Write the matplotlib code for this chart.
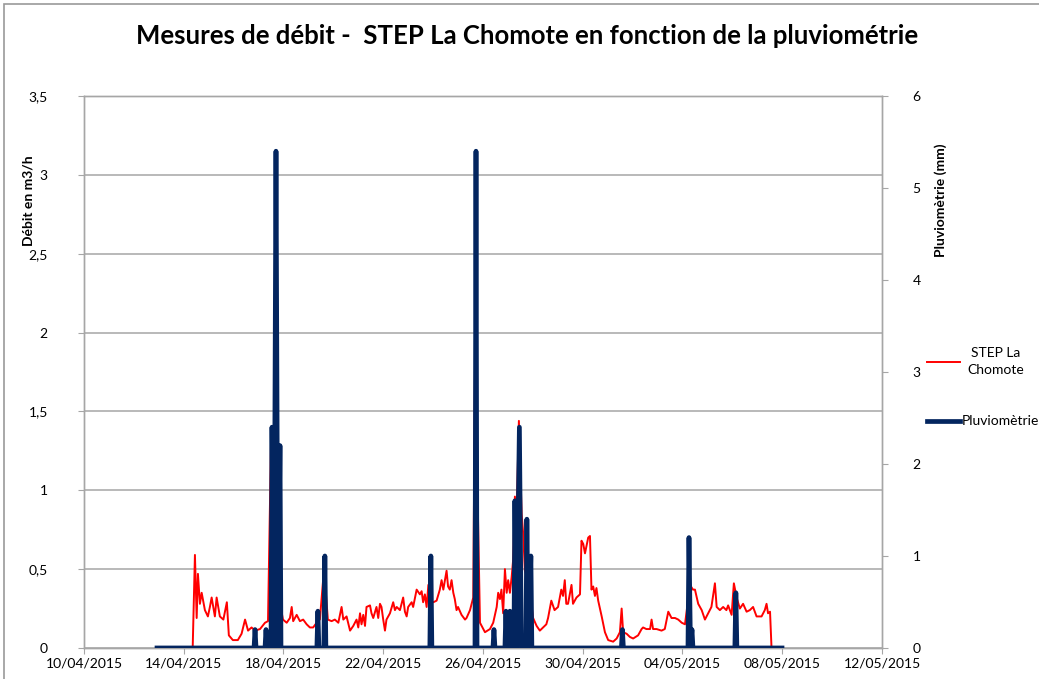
import numpy as np
import pandas as pd
import matplotlib
matplotlib.use('Agg')
import matplotlib.pyplot as plt
from matplotlib.lines import Line2D
from matplotlib.patches import Rectangle

plt.rcParams['font.family'] = ['Lato', 'DejaVu Sans']

# débit STEP (m3/h), temps en jours depuis le 10/04/2015
flow_day = [4.36, 4.45, 4.52, 4.57, 4.65, 4.72, 4.78, 4.85, 4.97, 5.05, 5.12, 5.25, 5.32, 5.45,
            5.59, 5.73, 5.81, 5.97, 6.17, 6.32, 6.46, 6.58, 6.72, 6.86, 7.06, 7.26, 7.38, 7.50,
            7.62, 7.74, 7.80, 7.90, 7.98, 8.13, 8.26, 8.33, 8.39, 8.53, 8.66, 8.79, 8.93, 9.06,
            9.19, 9.33, 9.39, 9.46, 9.60, 9.70, 9.78, 9.93, 10.06, 10.20, 10.33, 10.40, 10.53,
            10.67, 10.80, 10.93, 11.00, 11.07, 11.13, 11.20, 11.27, 11.33, 11.47, 11.53, 11.60,
            11.73, 11.80, 11.87, 11.93, 12.00, 12.07, 12.13, 12.27, 12.40, 12.47, 12.54, 12.67,
            12.80, 12.87, 12.94, 13.00, 13.14, 13.20, 13.34, 13.47, 13.54, 13.60, 13.67, 13.74,
            13.81, 13.87, 14.01, 14.14, 14.27, 14.34, 14.41, 14.54, 14.60, 14.67, 14.74, 14.81,
            14.87, 14.94, 15.00, 15.14, 15.28, 15.34, 15.48, 15.61, 15.70, 15.78, 15.88, 16.08,
            16.28, 16.41, 16.55, 16.61, 16.68, 16.74, 16.81, 16.88, 16.95, 17.01, 17.08, 17.15,
            17.21, 17.28, 17.35, 17.44, 17.55, 17.61, 17.68, 17.75, 17.88, 18.01, 18.15, 18.28,
            18.41, 18.54, 18.61, 18.74, 18.87, 19.01, 19.14, 19.21, 19.28, 19.34, 19.41, 19.55,
            19.61, 19.75, 19.89, 19.95, 20.02, 20.09, 20.22, 20.29, 20.35, 20.42, 20.49, 20.55,
            20.62, 20.76, 20.89, 21.02, 21.22, 21.36, 21.49, 21.56, 21.62, 21.76, 21.89, 22.02,
            22.22, 22.36, 22.42, 22.55, 22.70, 22.76, 22.82, 22.96, 23.16, 23.29, 23.43, 23.56,
            23.70, 23.83, 23.97, 24.10, 24.22, 24.30, 24.42, 24.50, 24.63, 24.77, 24.90, 25.03,
            25.16, 25.30, 25.37, 25.50, 25.63, 25.76, 25.83, 25.97, 26.06, 26.17, 26.30, 26.43,
            26.57, 26.70, 26.83, 26.97, 27.17, 27.30, 27.37, 27.43, 27.51, 27.57]
flow_val = [0.0, 0.59, 0.19, 0.47, 0.28, 0.35, 0.30, 0.24, 0.20, 0.26, 0.32, 0.20, 0.32, 0.20,
            0.18, 0.29, 0.08, 0.05, 0.05, 0.09, 0.18, 0.11, 0.13, 0.11, 0.12, 0.16, 0.17, 1.30,
            0.90, 1.20, 0.58, 0.25, 0.18, 0.16, 0.19, 0.26, 0.17, 0.21, 0.17, 0.18, 0.15, 0.13,
            0.13, 0.16, 0.24, 0.18, 0.45, 0.35, 0.18, 0.17, 0.18, 0.16, 0.26, 0.18, 0.20,
            0.11, 0.14, 0.18, 0.13, 0.22, 0.15, 0.21, 0.14, 0.26, 0.27, 0.22, 0.19,
            0.26, 0.19, 0.28, 0.26, 0.18, 0.11, 0.18, 0.22, 0.29, 0.24, 0.26, 0.24,
            0.32, 0.23, 0.20, 0.26, 0.29, 0.26, 0.37, 0.34, 0.36, 0.29, 0.34, 0.26,
            0.40, 0.30, 0.29, 0.30, 0.37, 0.43, 0.37, 0.49, 0.39, 0.37, 0.43, 0.35,
            0.31, 0.24, 0.26, 0.21, 0.18, 0.19, 0.24, 0.32, 2.20, 1.00, 0.16, 0.10,
            0.12, 0.16, 0.26, 0.35, 0.31, 0.37, 0.22, 0.50, 0.35, 0.43, 0.35, 0.45,
            0.56, 0.96, 0.85, 1.44, 0.85, 0.73, 0.49, 0.45, 0.35, 0.19, 0.14, 0.11,
            0.13, 0.15, 0.19, 0.30, 0.24, 0.26, 0.37, 0.33, 0.43, 0.28, 0.28, 0.40,
            0.28, 0.32, 0.34, 0.68, 0.66, 0.60, 0.70, 0.71, 0.37, 0.39, 0.33, 0.38,
            0.30, 0.20, 0.10, 0.05, 0.04, 0.06, 0.10, 0.25, 0.10, 0.09, 0.07, 0.06,
            0.08, 0.12, 0.13, 0.12, 0.12, 0.18, 0.12, 0.12, 0.11, 0.12, 0.23, 0.19,
            0.19, 0.18, 0.16, 0.15, 0.30, 0.40, 0.37, 0.37, 0.28, 0.24, 0.18, 0.22,
            0.26, 0.41, 0.26, 0.24, 0.26, 0.24, 0.27, 0.21, 0.41, 0.32, 0.25, 0.28,
            0.23, 0.24, 0.26, 0.20, 0.20, 0.24, 0.28, 0.22, 0.23, 0.0]

# pluviométrie (mm), temps en jours depuis le 10/04/2015
rain_day = [2.93,
            6.82, 6.86, 6.90, 7.26, 7.30, 7.34, 7.50, 7.54, 7.62, 7.70, 7.78, 7.86, 7.90,
            9.34, 9.38, 9.42, 9.62, 9.66, 9.70, 13.87, 13.91, 13.95, 15.68, 15.72, 15.76,
            16.40, 16.44, 16.48, 16.88, 16.92, 16.96, 17.04, 17.08, 17.12, 17.24, 17.28, 17.34,
            17.46, 17.54, 17.72, 17.76, 17.82, 17.92, 17.96,
            21.55, 21.59, 21.63, 24.22, 24.26, 24.32, 24.38, 24.42, 26.10, 26.14, 26.18,
            27.99]
rain_mm = [0.0,
           0.0, 0.2, 0.0, 0.0, 0.2, 0.0, 0.0, 2.4, 0.0, 5.4, 0.0, 2.2, 0.0,
           0.0, 0.4, 0.0, 0.0, 1.0, 0.0, 0.0, 1.0, 0.0, 0.0, 5.4, 0.0,
           0.0, 0.2, 0.0, 0.0, 0.4, 0.0, 0.0, 0.4, 0.0, 0.0, 1.6, 0.0,
           2.4, 0.0, 0.0, 1.4, 0.0, 1.0, 0.0,
           0.0, 0.2, 0.0, 0.0, 1.2, 0.0, 0.2, 0.0, 0.0, 0.6, 0.0,
           0.0]

yticks_left = [0, 0.5, 1, 1.5, 2, 2.5, 3, 3.5]
ytick_labels_left = ['0', '0,5', '1', '1,5', '2', '2,5', '3', '3,5']
yticks_right = [0, 1, 2, 3, 4, 5, 6]

start = pd.Timestamp('2015-04-10')
flow_t = start + pd.to_timedelta(flow_day, unit='D')
rain_t = start + pd.to_timedelta(rain_day, unit='D')

red = '#FF0000'
navy = '#03255F'
grid_c = '#A6A6A6'

fig = plt.figure(figsize=(10.39, 6.79), dpi=100)
fig.patches.append(Rectangle((0.004, -0.01), 1.2, 1.004, transform=fig.transFigure,
                             fill=False, edgecolor='#999999', linewidth=1.2))
ax = fig.add_axes([0.0808, 0.0457, 0.7681, 0.8129])
ax2 = ax.twinx()

ax.plot(flow_t, flow_val, color=red, linewidth=1.4, zorder=2)
ax2.plot(rain_t, rain_mm, color=navy, linewidth=3.4, solid_joinstyle='round', zorder=3)

ax.set_xlim(pd.Timestamp('2015-04-10'), pd.Timestamp('2015-05-12'))
ax.set_ylim(0, 3.5)
ax2.set_ylim(0, 6)

ax.set_yticks(yticks_left)
ax.set_yticklabels(ytick_labels_left)
ax2.set_yticks(yticks_right)
ticks = pd.date_range('2015-04-10', '2015-05-12', freq='4D')
ax.set_xticks(ticks)
ax.set_xticklabels([t.strftime('%d/%m/%Y') for t in ticks])

ax.yaxis.grid(True, color=grid_c, linewidth=1.1)
ax.set_axisbelow(True)
for a in (ax, ax2):
    for s in a.spines.values():
        s.set_color(grid_c)
        s.set_linewidth(1.0)
    a.tick_params(colors='black', labelsize=10, length=4, width=0.8, color=grid_c)
ax.tick_params(axis='x', pad=3)
ax.tick_params(axis='y', pad=22)
ax2.tick_params(axis='y', pad=18)

# titres des axes
fig.text(0.027, 0.705, 'Débit en m3/h', rotation=90, ha='center', va='center',
         fontsize=10, fontweight='bold')
fig.text(0.905, 0.705, 'Pluviomètrie (mm)', rotation=90, ha='center', va='center',
         fontsize=10, fontweight='bold')

fig.text(0.507, 0.947, 'Mesures de débit -  STEP La Chomote en fonction de la pluviométrie',
         ha='center', va='center', fontsize=18.5, fontweight='bold')

# légende
fig.add_artist(Line2D([0.892, 0.924], [0.467, 0.467], color=red, linewidth=1.4,
                      transform=fig.transFigure))
fig.text(0.958, 0.467, 'STEP La\nChomote', ha='center', va='center', fontsize=10,
         linespacing=1.5)
fig.add_artist(Line2D([0.892, 0.924], [0.380, 0.380], color=navy, linewidth=3.4,
                      transform=fig.transFigure))
fig.text(0.926, 0.380, 'Pluviomètrie', ha='left', va='center', fontsize=10)

fig.savefig('out.png', dpi=100)
